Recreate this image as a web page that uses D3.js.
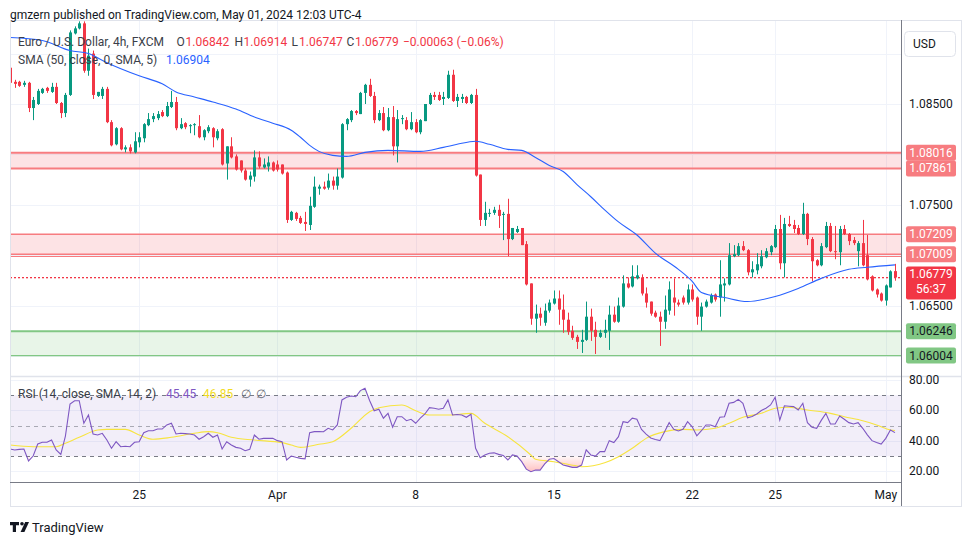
<!DOCTYPE html>
<html><head><meta charset="utf-8">
<script src="https://cdn.jsdelivr.net/npm/d3@7"></script>
<style>
html,body{margin:0;padding:0;background:#fff;}
svg{display:block;font-family:Roboto,"Open Sans",sans-serif;}
</style></head><body>
<svg id="c" width="970" height="545"></svg>
<script>
// ---------------- DATA ----------------
const opens = [1.0886,1.0872,1.0872,1.0869,1.0871,1.0846,1.0850,1.0861,1.0866,1.0862,1.0867,1.0851,1.0841,1.0859,1.0920,1.0925,1.0930,1.0883,1.0900,1.0858,
1.0858,1.0865,1.0832,1.0810,1.0826,1.0805,1.0807,1.0802,1.0812,1.0816,1.0829,1.0835,1.0836,1.0842,1.0838,1.0847,1.0852,1.0826,1.0831,1.0828,
1.0829,1.0828,1.0817,1.0823,1.0826,1.0816,1.0825,1.0791,1.0808,1.0798,1.0794,1.0784,1.0775,1.0778,1.0797,1.0787,1.0788,1.0792,1.0790,1.0790,
1.0782,1.0735,1.0742,1.0737,1.0733,1.0730,1.0748,1.0766,1.0768,1.0767,1.0774,1.0769,1.0777,1.0830,1.0834,1.0843,1.0840,1.0861,1.0869,1.0858,
1.0834,1.0841,1.0824,1.0837,1.0808,1.0835,1.0834,1.0825,1.0832,1.0822,1.0833,1.0850,1.0859,1.0859,1.0855,1.0856,1.0879,1.0853,1.0855,1.0857,
1.0851,1.0859,1.0780,1.0735,1.0741,1.0742,1.0745,1.0740,1.0741,1.0716,1.0723,1.0727,1.0711,1.0672,1.0637,1.0642,1.0633,1.0645,1.0652,1.0657,
1.0646,1.0636,1.0625,1.0619,1.0614,1.0616,1.0639,1.0626,1.0619,1.0623,1.0625,1.0641,1.0634,1.0649,1.0672,1.0669,1.0677,1.0678,1.0662,1.0654,
1.0643,1.0639,1.0634,1.0645,1.0658,1.0653,1.0658,1.0653,1.0666,1.0658,1.0639,1.0649,1.0653,1.0661,1.0658,1.0670,1.0671,1.0699,1.0700,1.0709,
1.0705,1.0683,1.0685,1.0689,1.0698,1.0703,1.0708,1.0726,1.0692,1.0731,1.0730,1.0727,1.0721,1.0741,1.0716,1.0695,1.0690,1.0708,1.0729,1.0704,
1.0703,1.0726,1.0721,1.0715,1.0704,1.0712,1.0700,1.0679,1.0666,1.0662,1.0655,1.0668,1.06842];
const highs = [1.0887,1.0874,1.0873,1.0873,1.0872,1.0857,1.0865,1.0866,1.0867,1.0871,1.0871,1.0852,1.0861,1.0923,1.0927,1.0932,1.0932,1.0905,1.0903,1.0862,
1.0867,1.0867,1.0834,1.0827,1.0827,1.0809,1.0810,1.0822,1.0822,1.0831,1.0841,1.0841,1.0843,1.0844,1.0852,1.0863,1.0857,1.0836,1.0832,1.0830,
1.0831,1.0839,1.0825,1.0829,1.0827,1.0825,1.0826,1.0808,1.0817,1.0800,1.0794,1.0786,1.0783,1.0804,1.0803,1.0796,1.0798,1.0793,1.0794,1.0790,
1.0783,1.0744,1.0743,1.0739,1.0743,1.0758,1.0778,1.0770,1.0773,1.0781,1.0778,1.0786,1.0831,1.0836,1.0844,1.0844,1.0862,1.0870,1.0875,1.0862,
1.0844,1.0847,1.0846,1.0848,1.0844,1.0839,1.0837,1.0842,1.0835,1.0835,1.0850,1.0861,1.0862,1.0862,1.0862,1.0883,1.0884,1.0860,1.0860,1.0858,
1.0860,1.0865,1.0780,1.0753,1.0746,1.0748,1.0750,1.0743,1.0756,1.0727,1.0729,1.0727,1.0714,1.0672,1.0651,1.0648,1.0652,1.0656,1.0665,1.0665,
1.0661,1.0643,1.0630,1.0621,1.0626,1.0654,1.0647,1.0634,1.0626,1.0636,1.0650,1.0649,1.0658,1.0680,1.0678,1.0690,1.0690,1.0681,1.0668,1.0654,
1.0645,1.0644,1.0660,1.0674,1.0677,1.0656,1.0660,1.0671,1.0671,1.0659,1.0653,1.0656,1.0662,1.0662,1.0695,1.0677,1.0712,1.0710,1.0712,1.0714,
1.0706,1.0694,1.0702,1.0705,1.0707,1.0710,1.0730,1.0740,1.0737,1.0739,1.0735,1.0730,1.0752,1.0742,1.0718,1.0696,1.0712,1.0733,1.0732,1.0729,
1.0729,1.0730,1.0722,1.0718,1.0714,1.0735,1.0720,1.0680,1.0667,1.0663,1.0671,1.0685,1.06914];
const lows = [1.0870,1.0866,1.0867,1.0867,1.0842,1.0834,1.0849,1.0860,1.0861,1.0861,1.0850,1.0836,1.0837,1.0858,1.0919,1.0924,1.0881,1.0878,1.0855,1.0857,
1.0855,1.0831,1.0808,1.0809,1.0804,1.0802,1.0801,1.0801,1.0807,1.0812,1.0828,1.0832,1.0834,1.0837,1.0837,1.0846,1.0824,1.0825,1.0825,1.0821,
1.0819,1.0816,1.0814,1.0821,1.0807,1.0814,1.0789,1.0775,1.0796,1.0784,1.0782,1.0774,1.0768,1.0773,1.0786,1.0786,1.0783,1.0783,1.0783,1.0780,
1.0732,1.0734,1.0734,1.0731,1.0724,1.0725,1.0747,1.0760,1.0765,1.0765,1.0765,1.0765,1.0776,1.0824,1.0832,1.0839,1.0840,1.0850,1.0857,1.0831,
1.0833,1.0823,1.0823,1.0799,1.0792,1.0830,1.0824,1.0824,1.0821,1.0820,1.0833,1.0849,1.0854,1.0853,1.0849,1.0855,1.0852,1.0847,1.0851,1.0850,
1.0850,1.0778,1.0729,1.0729,1.0738,1.0740,1.0727,1.0715,1.0699,1.0715,1.0722,1.0710,1.0670,1.0631,1.0623,1.0630,1.0630,1.0643,1.0651,1.0631,
1.0623,1.0621,1.0616,1.0607,1.0603,1.0615,1.0615,1.0602,1.0618,1.0618,1.0606,1.0633,1.0633,1.0648,1.0667,1.0668,1.0676,1.0660,1.0648,1.0640,
1.0638,1.0610,1.0627,1.0641,1.0640,1.0649,1.0651,1.0651,1.0654,1.0631,1.0625,1.0648,1.0652,1.0654,1.0639,1.0654,1.0670,1.0698,1.0699,1.0704,
1.0680,1.0678,1.0681,1.0687,1.0697,1.0700,1.0707,1.0686,1.0678,1.0728,1.0722,1.0720,1.0720,1.0710,1.0674,1.0689,1.0689,1.0707,1.0703,1.0696,
1.0690,1.0720,1.0710,1.0710,1.0689,1.0689,1.0675,1.0664,1.0658,1.0654,1.0650,1.0668,1.06747];
const closes = [1.0871,1.0870,1.0868,1.0871,1.0846,1.0854,1.0863,1.0865,1.0863,1.0867,1.0851,1.0841,1.0859,1.0921,1.0925,1.0930,1.0883,1.0898,1.0859,1.0862,
1.0865,1.0832,1.0809,1.0826,1.0805,1.0807,1.0803,1.0813,1.0817,1.0830,1.0835,1.0838,1.0840,1.0838,1.0848,1.0852,1.0826,1.0830,1.0827,1.0829,
1.0830,1.0817,1.0824,1.0827,1.0817,1.0823,1.0790,1.0808,1.0797,1.0785,1.0784,1.0775,1.0779,1.0797,1.0788,1.0790,1.0792,1.0784,1.0785,1.0781,
1.0735,1.0743,1.0736,1.0732,1.0731,1.0749,1.0768,1.0768,1.0766,1.0774,1.0769,1.0778,1.0830,1.0835,1.0843,1.0841,1.0861,1.0869,1.0858,1.0834,
1.0841,1.0824,1.0837,1.0808,1.0835,1.0836,1.0825,1.0832,1.0822,1.0834,1.0850,1.0859,1.0857,1.0854,1.0857,1.0879,1.0853,1.0857,1.0857,1.0851,
1.0859,1.0779,1.0735,1.0742,1.0742,1.0745,1.0739,1.0741,1.0716,1.0727,1.0726,1.0710,1.0671,1.0637,1.0642,1.0638,1.0645,1.0653,1.0657,1.0646,
1.0636,1.0624,1.0618,1.0614,1.0616,1.0639,1.0625,1.0619,1.0623,1.0626,1.0641,1.0634,1.0650,1.0672,1.0668,1.0679,1.0680,1.0662,1.0653,1.0642,
1.0639,1.0634,1.0646,1.0666,1.0653,1.0651,1.0653,1.0666,1.0656,1.0639,1.0649,1.0654,1.0660,1.0656,1.0671,1.0672,1.0700,1.0701,1.0709,1.0705,
1.0683,1.0686,1.0691,1.0699,1.0704,1.0709,1.0726,1.0692,1.0731,1.0729,1.0726,1.0721,1.0741,1.0716,1.0694,1.0690,1.0709,1.0729,1.0704,1.0703,
1.0726,1.0721,1.0714,1.0712,1.0712,1.0690,1.0676,1.0665,1.0661,1.0655,1.0670,1.0684,1.06779];

// SMA(50) at a set of bar indices
const smaIdx = [0,7,13,17,21,28,33,36,40,44,49,53,57,61,63,65,67,70,73,77,82,89,94,97,101,104,108,111,114,117,120,123,126,129,132,136,140,145,148,150,155,160,166,171,176,182,186,192];
const smaVal = [1.0916,1.0913,1.0903,1.0900,1.0891,1.0878,1.0870,1.0862,1.0857,1.0852,1.0845,1.0837,1.0831,1.0824,1.0817,1.0809,1.0803,1.0799,1.0798,1.0802,1.0804,1.0803,1.0807,1.0810,1.0813,1.0810,1.0805,1.0804,1.0797,1.0789,1.0783,1.0770,1.0758,1.0745,1.0733,1.0720,1.0702,1.0686,1.0674,1.0663,1.0658,1.0654,1.0659,1.0667,1.0677,1.0686,1.0688,1.06904];

// RSI(14), one value per bar
const rsiVal = [34.7,34.1,34.5,34.7,26.9,30.1,38.0,39.1,39.1,40.6,34.1,31.2,43.2,64.2,66.4,66.4,51.6,57.0,44.6,43.9,
45.0,40.6,35.2,39.5,36.2,36.5,36.2,39.1,39.5,45.4,46.7,46.7,47.8,47.8,50.5,51.6,44.6,45.0,44.8,44.6,
43.9,41.1,42.8,45.0,42.4,43.9,34.7,39.5,37.3,35.8,35.2,33.6,34.5,43.9,41.1,41.7,41.7,41.7,40.2,39.5,
27.5,30.1,29.3,28.6,28.3,45.4,46.1,46.1,46.0,48.3,47.2,50.5,66.9,68.6,69.5,69.0,73.0,74.5,66.5,59.8,
60.8,54.9,58.1,49.0,55.9,55.9,53.3,54.2,51.6,55.0,57.7,61.8,61.4,60.8,61.4,66.9,57.0,57.3,57.0,55.5,
57.5,35.2,29.0,30.8,31.9,32.2,31.2,30.5,27.5,30.8,30.1,26.4,21.5,19.8,20.9,20.9,24.9,28.0,28.5,26.4,
24.2,23.5,22.7,22.7,24.2,34.1,30.8,30.1,33.0,33.0,40.2,38.9,42.8,52.6,52.0,54.9,54.2,47.6,44.5,42.0,
41.0,40.2,46.0,52.0,47.6,46.5,47.6,52.6,49.3,43.4,46.7,50.5,50.5,49.3,55.5,55.9,64.7,65.3,67.3,64.7,
55.2,56.0,57.7,60.0,61.4,63.6,68.6,53.7,63.1,62.8,62.5,60.3,64.7,52.0,49.0,48.3,53.5,58.1,51.1,51.1,
56.4,54.2,52.0,51.1,52.0,48.3,44.0,40.2,39.0,38.0,41.7,47.2,45.45];

// RSI-based MA
const rsiMaIdx = [0,5,10,12,15,19,21,25,28,31,35,40,43,45,48,53,59,61,63,67,70,74,78,80,85,88,91,95,100,103,108,113,114,118,123,124,129,132,135,138,142,146,149,153,156,159,163,166,169,173,178,181,185,188,191,192];
const rsiMaVal = [37.3,36.2,36.2,38.5,42.4,47.2,47.6,47.6,43.9,41.1,42.4,45.0,46.1,45.4,42.4,40.6,38.9,37.3,35.8,37.8,39.5,48.3,59.2,61.8,63.6,59.8,57.0,57.0,58.1,51.6,42.8,30.8,28.0,26.4,23.6,23.1,25.7,29.7,35.2,41.7,46.1,47.6,47.2,48.3,51.6,55.5,58.1,61.4,62.1,60.3,58.1,55.9,53.3,50.5,47.2,46.85];

const dateTickIdx = [28,58,88,118,148,166,190];
const dateTickLabels = ["25","Apr","8","15","22","25","May"];
const priceGrid = [1.060,1.065,1.070,1.075,1.080,1.085,1.090];
const priceLabels = [1.085,1.075,1.065];
const rsiGrid = [20,40,60,80];
const rsiLevels = [70,50,30];

const redZones = [[1.08016,1.07861],[1.07209,1.07009]];
const greenZone = [1.06246,1.06004];
const lastOHLC = {o:"1.06842",h:"1.06914",l:"1.06747",c:"1.06779",chg:"−0.00063 (−0.06%)"};
const lastPrice = 1.06779;
const countdown = "56:37";
const smaLast = "1.06904", rsiLast = "45.45", rsiMaLast = "46.85";

// ---------------- LAYOUT ----------------
const svg = d3.select("#c");
const L = 10, R = 901, PT = 20, PB = 376, RT = 377, RB = 482, AB = 506, FR = 962;
const UP = "#089981", DN = "#f23645";
const x = d3.scaleLinear().domain([0, 192]).range([10.1, 895]);
const y = d3.scaleLinear().domain([1.07, 1.08]).range([255.2, 154.4]);
const yr = d3.scaleLinear().domain([30, 70]).range([456.2, 395.2]);

const defs = svg.append("defs");
defs.append("clipPath").attr("id","cp").append("rect").attr("x",L).attr("y",PT).attr("width",R-L).attr("height",PB-PT);
defs.append("clipPath").attr("id","cr").append("rect").attr("x",L).attr("y",RT).attr("width",R-L).attr("height",RB-RT);
defs.append("clipPath").attr("id","cob").append("rect").attr("x",L).attr("y",RT).attr("width",R-L).attr("height",yr(70)-RT);
defs.append("clipPath").attr("id","cos").append("rect").attr("x",L).attr("y",yr(30)).attr("width",R-L).attr("height",RB-yr(30));
const gOS = defs.append("linearGradient").attr("id","gos").attr("gradientUnits","userSpaceOnUse")
  .attr("x1",0).attr("x2",0).attr("y1",yr(30)).attr("y2",yr(18));
gOS.append("stop").attr("offset",0).attr("stop-color","rgba(255,82,82,0.04)");
gOS.append("stop").attr("offset",1).attr("stop-color","rgba(255,82,82,0.42)");
const gOB = defs.append("linearGradient").attr("id","gob").attr("gradientUnits","userSpaceOnUse")
  .attr("x1",0).attr("x2",0).attr("y1",yr(70)).attr("y2",yr(82));
gOB.append("stop").attr("offset",0).attr("stop-color","rgba(76,175,80,0.04)");
gOB.append("stop").attr("offset",1).attr("stop-color","rgba(76,175,80,0.42)");

svg.append("rect").attr("width",970).attr("height",545).attr("fill","#fff");

// grid
const grid = svg.append("g").attr("stroke","#f0f3fa").attr("stroke-width",1);
priceGrid.forEach(p=>{ const yy=Math.round(y(p))+0.5; if(yy>PT&&yy<PB) grid.append("line").attr("x1",L).attr("x2",R).attr("y1",yy).attr("y2",yy); });
rsiGrid.forEach(v=>{ const yy=Math.round(yr(v))+0.5; if(yy>RT&&yy<RB) grid.append("line").attr("x1",L).attr("x2",R).attr("y1",yy).attr("y2",yy); });
dateTickIdx.forEach(i=>{ const xx=Math.round(x(i))+0.5; grid.append("line").attr("x1",xx).attr("x2",xx).attr("y1",PT).attr("y2",RB); });

// zones
const zg = svg.append("g").attr("clip-path","url(#cp)");
redZones.forEach((z,k)=>{
  zg.append("rect").attr("x",L).attr("width",R-L).attr("y",y(z[0])).attr("height",y(z[1])-y(z[0])).attr("fill","rgba(242,54,69,0.14)");
  [z[0],z[1]].forEach(p=>zg.append("line").attr("x1",L).attr("x2",R).attr("y1",y(p)).attr("y2",y(p))
     .attr("stroke","#f77c80").attr("stroke-width",k===0?2:1.5));
});
// second (overlapping) edge just under the lower red zone
zg.append("line").attr("x1",L).attr("x2",R).attr("y1",y(redZones[1][1])+2.2).attr("y2",y(redZones[1][1])+2.2).attr("stroke","#f77c80").attr("stroke-width",1.2);
zg.append("rect").attr("x",L).attr("width",R-L).attr("y",y(greenZone[0])).attr("height",y(greenZone[1])-y(greenZone[0])).attr("fill","rgba(76,175,80,0.13)");
zg.append("line").attr("x1",L).attr("x2",R).attr("y1",y(greenZone[0])).attr("y2",y(greenZone[0])).attr("stroke","#81c784").attr("stroke-width",2);
zg.append("line").attr("x1",L).attr("x2",R).attr("y1",y(greenZone[1])).attr("y2",y(greenZone[1])).attr("stroke","#81c784").attr("stroke-width",1.2);

// last price dotted line (under the candles)
{
  const yy = Math.round(y(lastPrice));
  svg.append("g").attr("fill",DN).selectAll("rect").data(d3.range(L, R, 4)).join("rect")
    .attr("x",d=>d).attr("y",yy).attr("width",2).attr("height",1.3);
}

// candles
const cg = svg.append("g").attr("clip-path","url(#cp)");
const bars = d3.range(opens.length).map(i=>({i,o:opens[i],h:highs[i],l:lows[i],c:closes[i]}));
cg.selectAll("line.w").data(bars).join("line").attr("class","w")
  .attr("x1",d=>Math.round(x(d.i))+0.5).attr("x2",d=>Math.round(x(d.i))+0.5)
  .attr("y1",d=>y(d.h)).attr("y2",d=>y(d.l))
  .attr("stroke",d=>d.c>=d.o?UP:DN).attr("stroke-width",1);
cg.selectAll("rect.b").data(bars).join("rect").attr("class","b")
  .attr("x",d=>Math.round(x(d.i))-1).attr("width",3)
  .attr("y",d=>Math.min(y(d.o),y(d.c)))
  .attr("height",d=>Math.max(1,Math.abs(y(d.o)-y(d.c))))
  .attr("fill",d=>d.c>=d.o?UP:DN);

// SMA
cg.append("path").datum(smaIdx.map((k,j)=>[k,smaVal[j]]))
  .attr("d",d3.line().x(d=>x(d[0])).y(d=>y(d[1])).curve(d3.curveMonotoneX))
  .attr("fill","none").attr("stroke","#2962ff").attr("stroke-width",1.1);

// RSI pane
const rg = svg.append("g").attr("clip-path","url(#cr)");
rg.append("rect").attr("x",L).attr("width",R-L).attr("y",yr(70)).attr("height",yr(30)-yr(70)).attr("fill","rgba(126,87,194,0.1)");
rsiLevels.forEach(v=>rg.append("line").attr("x1",L).attr("x2",R).attr("y1",Math.round(yr(v))+0.5).attr("y2",Math.round(yr(v))+0.5)
  .attr("stroke",v===50?"rgba(120,123,134,0.6)":"#787b86").attr("stroke-width",1).attr("stroke-dasharray","4,4"));
const rsiPts = rsiVal.map((v,i)=>[i,v]);
rg.append("path").datum(rsiPts).attr("clip-path","url(#cos)")
  .attr("d",d3.area().x(d=>x(d[0])).y0(yr(30)).y1(d=>yr(d[1])))
  .attr("fill","url(#gos)");
rg.append("path").datum(rsiPts).attr("clip-path","url(#cob)")
  .attr("d",d3.area().x(d=>x(d[0])).y0(yr(70)).y1(d=>yr(d[1])))
  .attr("fill","url(#gob)");
rg.append("path").datum(rsiMaIdx.map((k,j)=>[k,rsiMaVal[j]]))
  .attr("d",d3.line().x(d=>x(d[0])).y(d=>yr(d[1])).curve(d3.curveMonotoneX))
  .attr("fill","none").attr("stroke","#f7e43f").attr("stroke-width",1.1);
rg.append("path").datum(rsiPts)
  .attr("d",d3.line().x(d=>x(d[0])).y(d=>yr(d[1])))
  .attr("fill","none").attr("stroke","#7e57c2").attr("stroke-width",1.1);

// frame
const fg = svg.append("g");
fg.append("rect").attr("x",L+0.5).attr("y",PT+0.5).attr("width",FR-L-1).attr("height",AB-PT).attr("fill","none").attr("stroke","#e0e3eb");
fg.append("line").attr("x1",L).attr("x2",FR).attr("y1",PB+0.5).attr("y2",PB+0.5).attr("stroke","#e0e3eb").attr("stroke-width",1.5);
fg.append("line").attr("x1",L).attr("x2",R).attr("y1",RB+0.5).attr("y2",RB+0.5).attr("stroke","#787b86");
fg.append("line").attr("x1",R+0.5).attr("x2",R+0.5).attr("y1",PT).attr("y2",AB).attr("stroke","#787b86");

// axis labels
const T = "#131722";
const ax = svg.append("g").attr("font-size",12).attr("fill",T);
priceLabels.forEach(p=>ax.append("text").attr("x",909).attr("y",y(p)+4).text(p.toFixed(5)));
rsiGrid.forEach(v=>ax.append("text").attr("x",909).attr("y",yr(v)+4).text(v.toFixed(2)));
dateTickIdx.forEach((i,k)=>ax.append("text").attr("x",x(i)).attr("y",499).attr("text-anchor","middle").text(dateTickLabels[k]));

function tag(p, bg, fg){
  const yy = y(p);
  svg.append("rect").attr("x",906).attr("y",yy-8).attr("width",50).attr("height",16).attr("rx",2).attr("fill",bg);
  svg.append("text").attr("x",931).attr("y",yy+4).attr("text-anchor","middle").attr("font-size",12).attr("fill",fg).text(p.toFixed(5));
}
tag(redZones[0][0],"#f77c80","#fff");
tag(redZones[0][1],"#f77c80","#fff");
tag(redZones[1][0],"#f77c80","#fff");
tag(redZones[1][1],"#f77c80","#fff");
tag(greenZone[0],"#81c784",T);
tag(greenZone[1],"#81c784",T);
{
  const yy = y(lastPrice);
  svg.append("rect").attr("x",906).attr("y",yy-11).attr("width",50).attr("height",33).attr("rx",2).attr("fill",DN);
  svg.append("text").attr("x",931).attr("y",yy+1).attr("text-anchor","middle").attr("font-size",12).attr("fill","#fff").text(lastPrice.toFixed(5));
  svg.append("text").attr("x",931).attr("y",yy+16).attr("text-anchor","middle").attr("font-size",12).attr("fill","#fff").text(countdown);
}
// USD button
svg.append("rect").attr("x",904.5).attr("y",31.5).attr("width",51).attr("height",25).attr("rx",4).attr("fill","#fff").attr("stroke","#e0e3eb");
svg.append("text").attr("x",913).attr("y",48).attr("font-size",12).attr("fill",T).text("USD");

// header
svg.append("text").attr("x",10).attr("y",19).attr("font-size",12).attr("fill",T)
  .text("gmzern published on TradingView.com, May 01, 2024 12:03 UTC-4");

// legends
const lg = svg.append("g").attr("font-size",12);
lg.append("text").attr("x",18).attr("y",46).attr("fill","#3a3e49").text("Euro / U.S. Dollar, 4h, FXCM");
[["O",176.5,lastOHLC.o,185.5],["H",234.5,lastOHLC.h,243.5],["L",291.5,lastOHLC.l,299],["C",346.5,lastOHLC.c,355]].forEach(a=>{
  lg.append("text").attr("x",a[1]).attr("y",46).attr("fill","#3a3e49").text(a[0]);
  lg.append("text").attr("x",a[3]).attr("y",46).attr("fill",DN).text(a[2]);
});
lg.append("text").attr("x",403).attr("y",46).attr("fill",DN).text(lastOHLC.chg);
lg.append("text").attr("x",18).attr("y",63.5).attr("fill","#3a3e49").text("SMA (50, close, 0, SMA, 5)");
lg.append("text").attr("x",166).attr("y",63.5).attr("fill","#2962ff").text(smaLast);
lg.append("text").attr("x",18).attr("y",397.5).attr("fill","#3a3e49").text("RSI (14, close, SMA, 14, 2)");
lg.append("text").attr("x",166).attr("y",397.5).attr("fill","#7e57c2").text(rsiLast);
lg.append("text").attr("x",203).attr("y",397.5).attr("fill","#f2dc1f").text(rsiMaLast);
lg.append("text").attr("x",241).attr("y",397.5).attr("fill","#6a6d78").text("∅");
lg.append("text").attr("x",256).attr("y",397.5).attr("fill","#6a6d78").text("∅");

// footer logo
const logo = svg.append("g").attr("fill",T);
logo.append("path").attr("d","M10 522h9v3.2h-3v6.8h-3.2v-6.8H10z");
logo.append("circle").attr("cx",22).attr("cy",523.8).attr("r",1.8);
logo.append("path").attr("d","M25.2 522h3.8l-4.6 10h-3.8z");
svg.append("text").attr("x",32).attr("y",531.5).attr("font-size",13).attr("fill",T).text("TradingView");
</script>
</body></html>
